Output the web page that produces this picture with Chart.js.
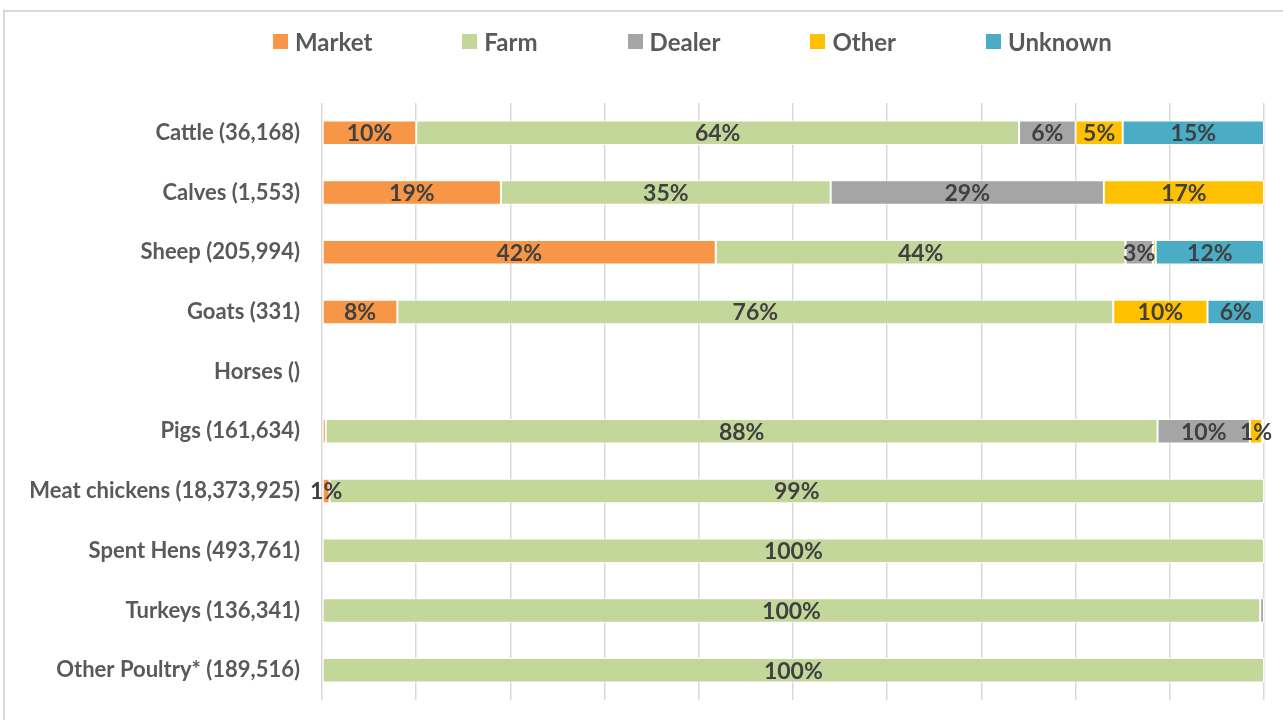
<!DOCTYPE html>
<html>
<head>
<meta charset="utf-8">
<script src="https://cdn.jsdelivr.net/npm/chart.js@4.4.1/dist/chart.umd.min.js"></script>
<style>
  html, body { margin: 0; padding: 0; background: #fff; overflow: hidden; }
  #wrap { position: relative; width: 1283px; height: 720px; }
  #frame { position: absolute; left: 3px; top: 10px; width: 1300px; height: 730px;
           border: 2px solid #d9d9d9; box-sizing: border-box; pointer-events: none; }
  canvas { position: absolute; left: 0; top: 0; }
  #legend { position: absolute; left: 273px; top: 27px; display: flex; gap: 90px;
            font-family: Lato, "Open Sans", sans-serif; font-weight: bold; font-size: 24px; color: #595959; }
  .item { display: flex; align-items: center; height: 28px; }
  .sw { width: 15px; height: 15px; margin-right: 7px; }
</style>
</head>
<body>
<div id="wrap">
  <canvas id="c" width="1283" height="720"></canvas>
  <div id="frame"></div>
  <div id="legend"></div>
</div>
<script>
const categories = ["Cattle (36,168)", "Calves (1,553)", "Sheep (205,994)", "Goats (331)", "Horses ()",
  "Pigs (161,634)", "Meat chickens (18,373,925)", "Spent Hens (493,761)", "Turkeys (136,341)", "Other Poultry* (189,516)"];
const seriesNames = ["Market", "Farm", "Dealer", "Other", "Unknown"];
const seriesColors = ["#F79646", "#C4D79B", "#A5A5A5", "#FFC000", "#4BACC6"];
const market  = [10, 19, 41.8, 8, null, 0.4, 0.8, 0, 0, 0];
const farm    = [64, 35, 43.5, 76, null, 88.3, 99.2, 100, 99.6, 100];
const dealer  = [6, 29, 2.9, 0, null, 9.8, 0, 0, 0.4, 0];
const other   = [5, 17, 0.3, 10, null, 1.3, 0, 0, 0, 0];
const unknown = [15, 0, 11.5, 6, null, 0.2, 0, 0, 0, 0];
const seriesValues = [market, farm, dealer, other, unknown];
const xTicks = [0, 10, 20, 30, 40, 50, 60, 70, 80, 90, 100];

const FONT = 'Lato, "Open Sans", sans-serif';

// HTML legend
const leg = document.getElementById('legend');
seriesNames.forEach((n, i) => {
  const it = document.createElement('div'); it.className = 'item';
  const sw = document.createElement('div'); sw.className = 'sw'; sw.style.background = seriesColors[i];
  const t = document.createElement('span'); t.textContent = n;
  it.appendChild(sw); it.appendChild(t); leg.appendChild(it);
});

const labelPlugin = {
  id: 'segLabels',
  afterDatasetsDraw(chart) {
    const ctx = chart.ctx;
    ctx.save();
    ctx.font = 'bold 23px ' + FONT;
    ctx.fillStyle = '#404040';
    ctx.textAlign = 'center';
    ctx.textBaseline = 'middle';
    chart.data.datasets.forEach((ds, di) => {
      const meta = chart.getDatasetMeta(di);
      meta.data.forEach((el, i) => {
        const v = ds.data[i];
        if (v == null || Math.round(v) < 1) return;
        const cx = (el.x + el.base) / 2;
        ctx.fillText(Math.round(v) + '%', cx, el.y + 1);
      });
    });
    ctx.restore();
  }
};

new Chart(document.getElementById('c'), {
  type: 'bar',
  data: {
    labels: categories,
    datasets: seriesNames.map((n, i) => ({
      label: n,
      data: seriesValues[i],
      backgroundColor: seriesColors[i],
      borderColor: '#ffffff',
      borderWidth: ctx => (ctx.raw && ctx.raw > 0 ? 1 : 0),
      borderSkipped: false,
      categoryPercentage: 1,
      barPercentage: 0.41
    }))
  },
  options: {
    indexAxis: 'y',
    responsive: false,
    animation: false,
    layout: { padding: { top: 103, right: 19, bottom: 20, left: 0 } },
    plugins: { legend: { display: false }, tooltip: { enabled: false } },
    scales: {
      x: {
        stacked: true, min: 0, max: 100,
        afterBuildTicks: s => { s.ticks = xTicks.map(v => ({ value: v })); },
        ticks: { display: false },
        grid: { color: '#d9d9d9', lineWidth: 1.5, drawTicks: false },
        border: { display: false },
        afterFit: s => { s.height = 0; }
      },
      y: {
        stacked: true,
        grid: { display: false, drawTicks: false },
        border: { display: false },
        ticks: { color: '#595959', font: { family: FONT, size: 22, weight: 'bold' }, padding: 22 },
        afterFit: s => { s.width = 322; s.paddingTop = 0; s.paddingBottom = 0; }
      }
    }
  },
  plugins: [labelPlugin]
});
</script>
</body>
</html>
